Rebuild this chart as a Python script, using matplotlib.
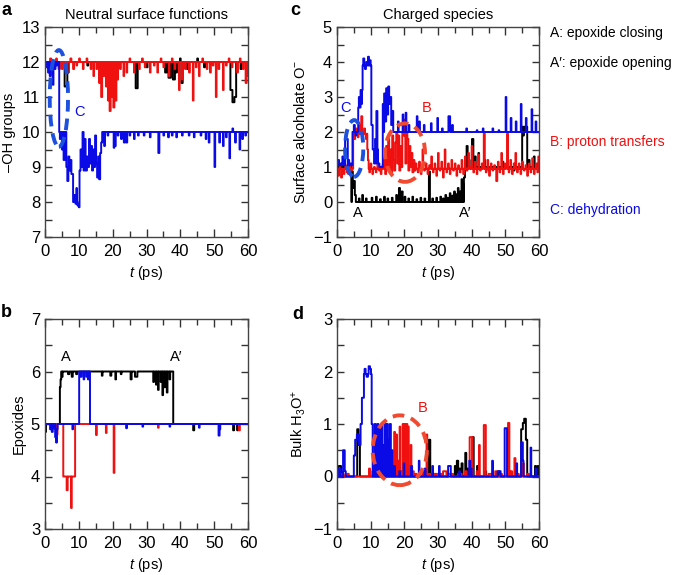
import matplotlib
matplotlib.use("Agg")
import matplotlib.pyplot as plt
from matplotlib.patches import Ellipse
from matplotlib.ticker import MultipleLocator
import numpy as np

plt.rcParams['font.family'] = ['Liberation Sans', 'DejaVu Sans']
plt.rcParams['mathtext.fontset'] = 'custom'
plt.rcParams['mathtext.rm'] = 'Liberation Sans'
plt.rcParams['mathtext.it'] = 'Liberation Sans:italic'

BLACK = '#000000'
RED = '#f01010'
BLUE = '#0a0ae6'

# each trace: baseline steps (t, value) + excursions (t_start, t_end, value)

# a: -OH groups
a_black_base = [(0, 12)]
a_black_ev = [(5.8, 6.6, 11.3), (6.6, 7.0, 11.7), (12.5, 12.8, 11.9), (26.8, 27.4, 11.25),
              (30, 30.3, 11.85), (35.5, 36, 11.7), (36.5, 37.2, 11.55), (37.8, 38.4, 11.5),
              (38.6, 39, 11.7), (39.9, 40.1, 12.1), (40.3, 40.7, 11.4), (42, 42.3, 11.8),
              (45, 45.2, 12.1), (47, 47.3, 11.85), (54.8, 55.4, 11.2), (55.4, 56.0, 10.85),
              (56.0, 56.5, 11.0), (57.8, 58.1, 11.8)]
a_red_base = [(0, 12)]
a_red_ev = [(0.5, 0.8, 11.9), (1.5, 1.8, 12.1), (2.5, 2.7, 11.9), (3.3, 3.5, 12.1), (4, 4.4, 11.8),
            (5, 5.3, 11.8), (6.5, 6.7, 11.7), (7.5, 7.8, 12.1), (8.3, 8.6, 11.8), (9.3, 9.5, 11.9),
            (10.1, 10.3, 12.1), (11.2, 11.4, 11.8), (12.3, 12.5, 12.1), (13.5, 13.7, 11.8),
            (14.3, 14.5, 11.6), (15.2, 15.4, 11.8), (16.0, 16.2, 11.4), (16.6, 16.9, 11.0),
            (17.3, 17.5, 11.6), (18, 18.2, 11.3), (18.6, 18.8, 10.9), (19.1, 19.4, 10.6),
            (19.7, 19.9, 11.0), (20.2, 20.5, 10.7), (20.8, 21.1, 10.9), (21.4, 21.6, 11.5),
            (22.2, 22.4, 11.8), (23.2, 23.4, 11.6), (24.1, 24.3, 11.7), (25, 25.2, 12.1),
            (26.3, 26.5, 11.7), (27.8, 28, 11.8), (28.7, 28.9, 12.1), (29.5, 29.7, 11.85),
            (31, 31.2, 11.7), (32.2, 32.4, 11.9), (33.2, 33.4, 11.7), (34.2, 34.4, 12.1),
            (35, 35.2, 11.85), (36.6, 36.8, 11.6), (37.5, 37.7, 12.1), (38.3, 38.5, 11.8),
            (39.6, 39.8, 11.2), (40.5, 40.7, 11.5), (41.4, 41.6, 11.8), (42.6, 42.8, 11.7),
            (43.7, 43.9, 10.9), (44.6, 44.8, 11.85), (45.5, 45.7, 11.6), (46.5, 46.7, 12.1),
            (47.8, 48, 11.8), (48.8, 49, 11.7), (49.6, 49.8, 11.9), (50.5, 50.7, 11.0),
            (51.3, 51.5, 11.8), (52.6, 52.8, 11.2), (53.5, 53.7, 11.9), (54.3, 54.5, 12.1),
            (55.2, 55.4, 11.85), (56.8, 57, 11.7), (57.6, 57.8, 12.1), (58.5, 58.7, 11.8),
            (59.3, 59.6, 11.4), (59.8, 60, 11.6)]
a_blue_base = [(0, 12), (4.2, 10)]
a_blue_ev = [(0.3, 0.6, 11.85), (0.9, 1.2, 11.7), (1.4, 1.7, 11.6), (1.8, 2.0, 11.8), (2.3, 2.5, 11.35),
             (2.9, 3.1, 11.8), (3.5, 3.7, 11.9), (4.4, 4.6, 9.8), (5.0, 5.3, 9.5), (5.5, 5.8, 9.2),
             (5.9, 6.2, 9.6), (6.3, 6.6, 9.0), (6.6, 6.9, 8.6), (6.9, 7.2, 9.3), (7.2, 7.5, 8.9),
             (7.5, 7.8, 9.2), (7.8, 8.3, 8.8), (8.3, 9.6, 8.0), (8.6, 8.8, 8.2), (9.0, 9.2, 7.95),
             (9.3, 9.4, 8.4), (9.6, 10.0, 7.9), (10.0, 10.2, 7.85), (10.2, 10.5, 8.9), (10.5, 10.8, 9.5),
             (10.8, 11.1, 9.0), (11.4, 11.7, 8.9), (11.7, 12.0, 9.8), (12.0, 12.4, 8.9),
             (12.4, 12.7, 9.3), (12.7, 13.0, 9.0), (13.0, 13.3, 9.8), (13.3, 13.6, 9.1),
             (13.6, 13.9, 9.6), (13.9, 14.2, 8.9), (14.2, 14.5, 9.5), (14.5, 14.8, 9.0),
             (14.8, 15.1, 9.9), (15.1, 15.4, 9.1), (15.4, 15.7, 8.7), (15.7, 16.0, 9.3),
             (16.0, 16.3, 8.65), (16.3, 16.6, 9.4), (16.6, 16.9, 9.7), (17.5, 17.7, 9.6),
             (18.5, 18.7, 9.9), (20.3, 20.5, 9.55), (20.7, 20.9, 9.6), (21.5, 21.7, 9.9),
             (22.5, 22.7, 9.8), (23.3, 23.6, 9.7), (24, 24.3, 9.7), (25, 25.2, 9.9), (26.3, 26.5, 9.8),
             (27.5, 27.7, 9.9), (29.2, 29.4, 9.9), (31, 31.2, 9.85), (33.5, 33.8, 9.4), (35, 35.2, 9.9),
             (36.4, 36.6, 9.85), (37.5, 37.7, 9.9), (38.8, 39, 9.85), (40.5, 40.7, 9.9),
             (42.5, 42.7, 9.9), (44, 44.2, 9.85), (46, 46.2, 9.9), (47.5, 47.7, 9.8), (48.4, 48.6, 9.7),
             (50.1, 50.3, 9.0), (51.5, 51.7, 9.7), (52.6, 52.8, 9.6), (53.5, 53.7, 9.85),
             (54.5, 54.7, 9.25), (55.4, 55.6, 10.1), (56.2, 56.4, 9.7), (57.5, 57.7, 9.5),
             (58.3, 58.5, 9.8), (59.2, 59.4, 9.9)]

# b: epoxides
b_black_base = [(0, 5), (4.4, 6), (37.9, 5)]
b_black_ev = [(0, 0.3, 4.85), (4.4, 4.6, 5.7), (4.6, 4.8, 5.85), (5.0, 5.2, 5.9), (6.8, 7.2, 5.95),
              (7.9, 8.2, 5.9), (9.2, 9.5, 5.95), (16.8, 17.0, 5.92), (19.3, 19.6, 5.92),
              (20.8, 21, 5.85), (22.4, 22.6, 5.95), (25.3, 25.6, 5.85), (26.6, 27.3, 5.9),
              (32.0, 32.2, 5.8), (32.8, 33, 5.75), (33.4, 33.6, 5.65), (34.2, 34.4, 5.8),
              (34.7, 34.9, 5.55), (35.3, 35.5, 5.7), (36.0, 36.2, 5.6), (36.8, 37, 5.85),
              (43.8, 44.1, 4.88), (55.6, 55.9, 4.88), (56.8, 57, 4.88)]
b_red_base = [(0, 5), (5.4, 4), (8.9, 5)]
b_red_ev = [(3.3, 3.5, 4.65), (3.5, 3.7, 4.8), (6.4, 6.7, 3.74), (7.7, 7.9, 3.4), (15.1, 15.3, 4.79),
            (18.0, 18.2, 4.83), (20.3, 20.5, 4.07), (33.4, 33.6, 4.93), (57.3, 57.6, 4.88)]
b_blue_base = [(0, 5), (10.1, 6), (13.3, 5)]
b_blue_ev = [(1.5, 1.8, 4.9), (2.0, 2.3, 4.85), (2.6, 2.8, 4.92), (3.0, 3.3, 4.75), (3.3, 3.5, 4.65),
             (3.5, 3.7, 4.9), (8.1, 8.3, 4.9), (10.5, 10.8, 5.9), (11.4, 11.6, 5.85), (12.2, 12.5, 5.9),
             (12.7, 12.9, 5.85), (24, 24.2, 4.92), (28.8, 29, 4.95), (36.8, 37, 4.95),
             (45.5, 45.7, 4.93), (51.3, 51.6, 4.78), (51.6, 51.8, 4.9)]

# c: surface alcoholate O-
c_black_base = [(0, 1), (4.3, 0), (38.0, 1)]
c_black_ev = [(4.4, 4.7, 0.87), (4.7, 5.0, 0.4), (5.0, 5.3, 0.6), (5.3, 5.6, 0.2), (6.5, 6.7, 0.1),
              (7.5, 7.7, 0.2), (8.6, 8.8, 0.1), (10.3, 10.5, 0.12), (11.6, 11.8, 0.15), (12.8, 13, 0.08),
              (14, 14.2, 0.15), (15, 15.2, 0.1), (16.3, 16.5, 0.12), (17.6, 17.8, 0.2), (18.4, 18.7, 0.4),
              (19.2, 19.5, 0.3), (20.1, 20.3, 0.15), (21.2, 21.4, 0.1), (22.4, 22.6, 0.15),
              (23.6, 23.8, 0.08), (24.8, 25, 0.12), (26, 26.2, 0.1), (27.3, 27.6, 0.87), (28.3, 28.5, 0.1),
              (29.5, 29.7, 0.12), (30.7, 30.9, 0.15), (31.5, 31.7, 0.1), (32.2, 32.4, 0.2),
              (32.8, 33, 0.12), (33.5, 33.7, 0.25), (34.2, 34.4, 0.18), (34.8, 35, 0.3),
              (35.4, 35.6, 0.22), (35.9, 36.1, 0.4), (36.5, 36.7, 0.3), (37.0, 37.2, 0.65),
              (37.4, 37.6, 0.5), (37.7, 38, 0.7), (38.5, 38.8, 1.6), (39.2, 39.4, 1.2), (40.1, 40.5, 1.8),
              (41, 41.2, 1.3), (42, 42.2, 1.4), (43.8, 44, 1.2), (45, 45.2, 0.9), (49.2, 49.4, 1.15),
              (50.6, 50.8, 1.1), (52.5, 52.7, 0.9), (55.0, 56.5, 2.15), (55.3, 55.5, 1.9),
              (57, 57.2, 1.2), (58.5, 58.7, 1.3), (59.5, 59.7, 1.1)]
c_red_base = [(0, 0.95), (4.8, 1.95), (9.4, 0.95)]
c_red_ev = [(0, 0.3, 0.85), (0.4, 0.6, 0.75), (0.8, 1.0, 1.0), (1.2, 1.5, 0.7), (1.6, 1.8, 0.9),
            (2.0, 2.2, 0.8), (2.5, 2.7, 1.05), (2.9, 3.1, 0.85), (3.3, 3.5, 0.8), (3.8, 4.0, 1.0),
            (4.2, 4.5, 0.9), (5.2, 5.4, 1.8), (5.7, 5.9, 2.1), (6.2, 6.4, 1.85), (6.8, 7.0, 2.2),
            (7.2, 7.5, 2.45), (7.6, 7.8, 1.9), (8.1, 8.3, 2.1), (8.6, 8.8, 1.8), (9.0, 9.2, 1.5),
            (9.2, 9.4, 1.2), (9.6, 9.8, 0.85), (10.0, 10.2, 1.1), (10.5, 10.7, 0.8), (11, 11.2, 1.0),
            (11.5, 11.7, 0.85), (12, 12.2, 1.1), (12.5, 12.7, 0.9), (13, 13.2, 0.8), (13.5, 13.7, 1.05),
            (14.0, 14.3, 1.3), (14.3, 14.6, 0.8), (14.6, 14.9, 1.6), (14.9, 15.2, 1.0), (15.2, 15.5, 1.8),
            (15.5, 15.8, 0.9), (15.8, 16.1, 1.5), (16.1, 16.4, 0.85), (16.4, 16.7, 1.9),
            (16.7, 17.0, 1.2), (17.0, 17.3, 0.9), (17.3, 17.6, 1.7), (17.6, 17.9, 2.0),
            (17.9, 18.2, 1.1), (18.2, 18.5, 1.9), (18.5, 18.8, 0.9), (18.8, 19.1, 1.6),
            (19.1, 19.4, 1.0), (19.4, 19.7, 2.0), (19.7, 20.0, 1.9), (20.0, 20.3, 2.35),
            (20.3, 20.6, 1.1), (20.6, 20.9, 2.0), (20.9, 21.2, 1.8), (21.2, 21.5, 0.9),
            (21.5, 21.8, 1.6), (21.8, 22.1, 1.0), (22.1, 22.4, 1.4), (22.4, 22.7, 0.85),
            (22.7, 23.0, 1.2), (23.0, 23.3, 0.9), (23.3, 23.6, 1.1), (24, 24.2, 0.85), (24.4, 24.6, 1.15),
            (24.9, 25.1, 0.8), (25.4, 25.6, 1.5), (25.9, 26.1, 0.9), (26.4, 26.6, 1.1), (26.9, 27.1, 0.8),
            (27.4, 27.6, 1.05), (28, 28.2, 1.3), (28.5, 28.7, 0.85), (29, 29.2, 1.1), (29.5, 29.7, 0.75),
            (30, 30.2, 1.4), (30.5, 30.7, 0.9), (31, 31.2, 1.15), (31.5, 31.7, 0.7), (32, 32.2, 1.5),
            (32.5, 32.7, 0.85), (33, 33.2, 1.1), (33.5, 33.7, 0.8), (34, 34.2, 1.2), (34.5, 34.7, 0.9),
            (35, 35.2, 1.1), (35.5, 35.7, 0.75), (36, 36.2, 1.05), (36.5, 36.7, 0.85), (37, 37.2, 1.2),
            (37.5, 37.7, 0.8), (38, 38.2, 1.3), (38.5, 38.7, 0.9), (39, 39.2, 1.4), (39.5, 39.7, 1.0),
            (40, 40.2, 1.6), (40.5, 40.7, 0.85), (41, 41.2, 1.15), (41.5, 41.7, 0.8), (42, 42.2, 1.35),
            (42.5, 42.7, 0.9), (43, 43.2, 1.1), (43.6, 43.9, 1.95), (44.2, 44.4, 0.85),
            (44.7, 44.9, 1.2), (45.2, 45.4, 0.75), (45.7, 45.9, 1.1), (46.2, 46.4, 0.9),
            (46.7, 46.9, 1.05), (47.3, 47.6, 0.6), (47.8, 48, 1.15), (48.3, 48.5, 0.85), (48.8, 49, 1.4),
            (49.3, 49.5, 0.8), (49.8, 50, 1.1), (50.5, 50.8, 1.95), (51, 51.2, 0.85), (51.5, 51.7, 1.2),
            (52, 52.2, 0.8), (52.5, 52.7, 1.1), (53, 53.2, 1.4), (53.5, 53.7, 0.85), (54, 54.2, 1.1),
            (54.5, 54.7, 0.8), (55, 55.2, 1.15), (55.5, 55.7, 0.9), (56, 56.2, 1.05), (56.5, 56.7, 0.75),
            (57, 57.2, 1.1), (57.5, 57.7, 0.85), (58, 58.2, 1.25), (58.5, 58.7, 0.8), (59, 59.2, 1.1),
            (59.5, 59.7, 0.85), (59.8, 60, 1.3)]
c_blue_base = [(0, 1.05), (4.6, 2.0), (6.3, 2.7), (7.0, 3.2), (7.6, 3.9), (10.2, 2.2), (10.6, 1.5),
               (11.0, 1.1), (12.6, 1.0), (13.6, 2.0)]
c_blue_ev = [(0.3, 0.6, 1.2), (1, 1.3, 1.1), (1.6, 1.9, 1.3), (2.4, 3.2, 1.8), (3.3, 3.6, 1.2),
             (3.8, 4.2, 1.1), (5.0, 5.3, 2.2), (5.5, 5.8, 1.9), (6.5, 6.8, 3.0), (7.2, 7.4, 2.8),
             (7.8, 8.1, 4.1), (8.3, 8.6, 3.8), (8.7, 9.0, 4.0), (9.2, 9.5, 4.15), (9.5, 9.8, 3.9),
             (9.8, 10.0, 4.05), (11.3, 11.6, 1.8), (11.7, 12.0, 2.6), (12.0, 12.2, 1.5),
             (13.6, 13.9, 2.8), (14.0, 14.3, 3.1), (14.3, 14.6, 2.3), (14.6, 14.9, 3.25),
             (14.9, 15.2, 2.5), (15.2, 15.5, 3.3), (15.5, 15.8, 2.8), (15.8, 16.1, 3.0),
             (16.1, 16.4, 2.2), (16.4, 16.7, 2.6), (18.1, 18.3, 2.3), (19.5, 19.7, 2.5),
             (20.4, 20.6, 2.55), (21.3, 21.5, 2.2), (23.7, 23.9, 2.45), (24.4, 24.6, 2.3),
             (25.8, 26, 2.2), (27.9, 28.1, 2.25), (29.8, 30.0, 2.4), (31.2, 31.4, 2.1),
             (33.1, 33.6, 2.45), (34.2, 34.4, 2.2), (38.4, 38.6, 2.1), (41.5, 41.7, 2.05),
             (43.3, 43.5, 2.1), (46.2, 46.4, 2.1), (48, 48.2, 2.05), (50.1, 50.3, 3.0),
             (51.6, 51.8, 2.4), (53.1, 53.3, 2.3), (54.6, 54.8, 2.8), (56.1, 56.3, 2.4),
             (57.8, 58, 2.65), (59.0, 59.2, 2.3)]

# d: bulk H3O+
d_black_base = [(0, 0)]
d_black_ev = [(0.5, 1.2, 0.2), (1.2, 1.5, 0.1), (6.0, 6.4, 0.9), (6.4, 6.8, 0.6), (12.2, 12.5, 0.1),
              (14.6, 14.8, 0.2), (27.3, 27.7, 0.7), (29, 29.3, 0.05), (35.0, 35.3, 0.2), (35.6, 36.0, 0.3),
              (36.3, 36.6, 0.15), (37.0, 37.3, 0.25), (38.1, 38.4, 0.45), (38.8, 39, 0.15),
              (40.2, 40.6, 0.75), (41.6, 41.9, 0.2), (44, 44.3, 0.1), (48, 48.3, 0.1), (54.7, 55.2, 0.9),
              (55.2, 55.6, 1.02), (55.6, 56.1, 1.1), (56.1, 56.5, 0.7), (58.8, 59.1, 0.2), (59.6, 60, 0.2)]
d_red_base = [(0, 0)]
d_red_ev = [(0.5, 0.8, 0.05), (1.5, 2, 0.05), (3, 3.5, 0.05), (9.5, 9.8, 0.15), (10.5, 10.8, 0.1),
            (13.0, 13.3, 0.1), (17.0, 17.2, 0.85), (17.2, 17.6, 0.1), (17.6, 17.8, 0.8), (18.2, 18.4, 0.3),
            (18.6, 18.8, 0.95), (19.0, 19.3, 0.1), (19.5, 19.7, 1.0), (19.8, 20.0, 0.9), (20.1, 20.3, 1.0),
            (20.4, 20.6, 0.4), (20.7, 20.9, 1.0), (21.1, 21.3, 0.95), (21.5, 21.7, 0.2), (21.9, 22.1, 0.6),
            (22.5, 22.8, 0.1), (23.3, 23.6, 0.05), (24.5, 24.8, 0.05), (25.5, 26.0, 0.1),
            (26.2, 26.5, 0.05), (26.6, 26.8, 0.8), (27.3, 27.6, 0.05), (28, 29, 0.05), (29.5, 31, 0.05),
            (31.5, 32.5, 0.1), (33, 34.5, 0.05), (36, 37, 0.05), (38, 38.5, 0.1), (39.4, 40.3, 0.75),
            (41.5, 42.0, 0.1), (42.2, 42.4, 0.6), (43.6, 44.2, 0.98), (45, 46, 0.05), (47, 47.5, 0.1),
            (48.5, 49, 0.05), (50.8, 51.2, 1.02), (51.5, 52, 0.1), (52.7, 53, 0.35), (53.3, 54, 0.05),
            (55.2, 55.5, 0.25), (56.5, 57, 0.05)]
d_blue_base = [(0, 0), (7.4, 1.5), (8.0, 1.95), (10.3, 0)]
d_blue_ev = [(0.6, 1.0, 0.15), (1.8, 2.3, 0.5), (2.3, 2.6, 0.1), (5.0, 5.4, 0.4), (5.4, 5.9, 0.7),
             (5.9, 6.4, 0.8), (6.4, 7.0, 0.6), (7.0, 7.4, 1.0), (8.2, 8.5, 2.05), (8.8, 9.2, 1.9),
             (9.4, 9.8, 2.1), (9.8, 10.1, 2.05), (10.3, 10.6, 1.0), (10.8, 11.1, 0.2), (11.2, 11.5, 1.0),
             (11.6, 11.9, 0.5), (12.0, 12.3, 1.0), (12.6, 12.9, 0.9), (13.2, 13.5, 1.0), (13.7, 14.0, 0.6),
             (14.2, 14.5, 1.0), (14.8, 15.1, 1.0), (15.3, 15.6, 0.7), (15.7, 16.0, 1.0), (16.2, 16.5, 0.5),
             (17.0, 17.2, 0.2), (18.5, 18.7, 0.1), (19.8, 20.0, 0.25), (22.0, 22.3, 0.2),
             (24.3, 24.5, 0.3), (26.0, 26.3, 0.15), (28.3, 28.5, 0.2), (30.3, 30.5, 0.2),
             (33.0, 33.8, 0.2), (36.3, 36.5, 0.1), (39.3, 39.6, 0.3), (39.8, 40.0, 0.15),
             (46.1, 46.3, 0.3), (47.7, 48.6, 0.1), (49.8, 50.5, 0.92), (53.3, 53.5, 0.25),
             (54.7, 55.2, 0.65), (55.2, 55.4, 0.3), (57.5, 57.7, 0.55), (59.0, 59.3, 0.15)]


def build(base, events):
    t = np.arange(0, 60.001, 0.02)
    bt = np.array([b[0] for b in base])
    bv = np.array([b[1] for b in base])
    y = bv[np.searchsorted(bt, t, side='right') - 1].astype(float)
    for t0, t1, val in events:
        y[(t >= t0) & (t < t1)] = val
    return t, y


fig = plt.figure(figsize=(6.78, 5.75), dpi=100)
W, H = 678, 575


def make_ax(x0, y0, x1, y1):
    return fig.add_axes([x0 / W, 1 - y1 / H, (x1 - x0) / W, (y1 - y0) / H])


ax_a = make_ax(45, 27, 248, 237)
ax_c = make_ax(337, 27, 539, 237)
ax_b = make_ax(45, 319, 248, 529)
ax_d = make_ax(337, 319, 539, 529)

panels = [
    (ax_a, [(a_black_base, a_black_ev), (a_red_base, a_red_ev), (a_blue_base, a_blue_ev)], (7, 13), '–OH groups'),
    (ax_c, [(c_black_base, c_black_ev), (c_red_base, c_red_ev), (c_blue_base, c_blue_ev)], (-1, 5), 'Surface alcoholate O$^{−}$'),
    (ax_b, [(b_black_base, b_black_ev), (b_red_base, b_red_ev), (b_blue_base, b_blue_ev)], (3, 7), 'Epoxides'),
    (ax_d, [(d_black_base, d_black_ev), (d_red_base, d_red_ev), (d_blue_base, d_blue_ev)], (-1, 3), 'Bulk H$_3$O$^{+}$'),
]

for ax, series, ylim, ylab in panels:
    for (base, ev), col in zip(series, [BLACK, RED, BLUE]):
        t, y = build(base, ev)
        ax.plot(t, y, drawstyle='steps-post', color=col, lw=1.4)
    ax.set_xlim(0, 60)
    ax.set_ylim(*ylim)
    ax.xaxis.set_major_locator(MultipleLocator(10))
    ax.xaxis.set_minor_locator(MultipleLocator(5))
    ax.yaxis.set_major_locator(MultipleLocator(1))
    ax.yaxis.set_minor_locator(MultipleLocator(0.5))
    ax.tick_params(which='both', direction='in', top=True, right=True, labelsize=12, color='#333333')
    ax.tick_params(axis='x', which='major', length=6, width=1, pad=5)
    ax.tick_params(axis='x', which='minor', length=4, width=1)
    ax.tick_params(axis='y', which='both', length=5, width=1)
    for s in ax.spines.values():
        s.set_color('#444444')
        s.set_linewidth(1)
    ax.set_xlabel('$t$ (ps)', fontsize=10.5, labelpad=4)
    ax.set_ylabel(ylab, fontsize=10.5, labelpad=4)

# dashed ellipses
dash = (0, (3.0, 1.8))
ax_a.add_patch(Ellipse((4.1, 10.96), 5.4, 2.76, fill=False, ec='#1e50e0', lw=2.8, ls=dash, zorder=5))
ax_c.add_patch(Ellipse((5.1, 1.53), 5.4, 1.62, fill=False, ec='#1e50e0', lw=2.8, ls=dash, zorder=5))
ax_c.add_patch(Ellipse((20.2, 1.41), 11.9, 1.67, fill=False, ec='#f04a30', lw=2.8, ls=dash, zorder=5))
ax_d.add_patch(Ellipse((18.65, 0.5), 16.1, 1.33, fill=False, ec='#f04a30', lw=2.8, ls=dash, zorder=5))

ax_a.text(10.3, 10.57, 'C', color=BLUE, fontsize=10.5, ha='center', va='center')
ax_c.text(2.4, 2.7, 'C', color=BLUE, fontsize=10.5, ha='center', va='center')
ax_c.text(26.7, 2.7, 'B', color=RED, fontsize=10.5, ha='center', va='center')
ax_c.text(6.2, -0.32, 'A', color=BLACK, fontsize=10.5, ha='center', va='center')
ax_c.text(38.2, -0.32, 'A′', color=BLACK, fontsize=10.5, ha='center', va='center')
ax_d.text(25.5, 1.3, 'B', color=RED, fontsize=10.5, ha='center', va='center')
ax_b.text(6.3, 6.27, 'A', color=BLACK, fontsize=10.5, ha='center', va='center')
ax_b.text(38.8, 6.27, 'A′', color=BLACK, fontsize=10.5, ha='center', va='center')

ax_a.set_title('Neutral surface functions', fontsize=10.5, pad=6)
ax_c.set_title('Charged species', fontsize=10.5, pad=6)

for lab, x, y in [('a', 1, 2), ('c', 290, 2), ('b', 1, 304), ('d', 292, 306)]:
    fig.text(x / W, 1 - y / H, lab, fontsize=13, fontweight='bold', va='top', ha='left')

for txt, col, y in [('A: epoxide closing', BLACK, 33), ('A′: epoxide opening', BLACK, 63),
                    ('B: proton transfers', RED, 142), ('C: dehydration', BLUE, 210)]:
    fig.text(550 / W, 1 - y / H, txt, color=col, fontsize=10, va='center', ha='left')

fig.savefig('out.png', dpi=100)
